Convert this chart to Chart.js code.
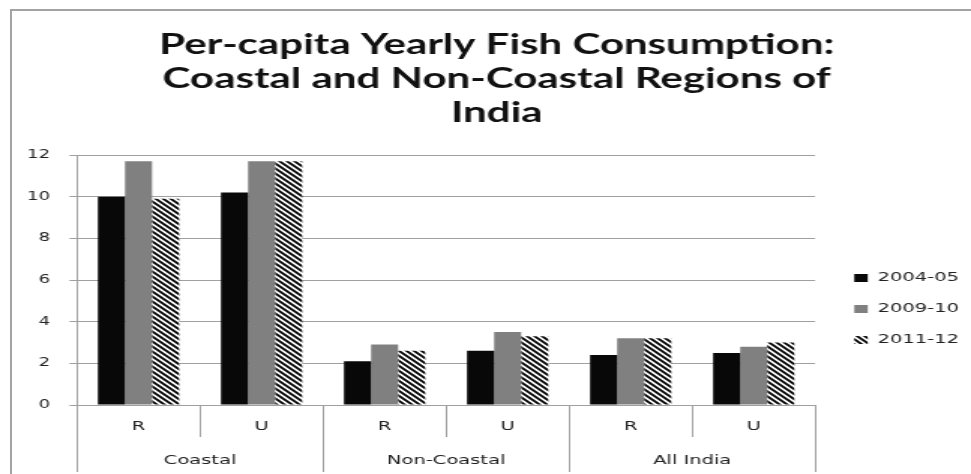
<!DOCTYPE html>
<html>
<head>
<meta charset="utf-8">
<script src="https://cdn.jsdelivr.net/npm/chart.js@4"></script>
<style>
  html, body { margin: 0; padding: 0; background: #fff; }
  #wrap { position: relative; width: 971px; height: 474px; overflow: hidden; }
  #frame { position: absolute; left: 10px; top: 9px; right: 0; bottom: 0;
           border-left: 2px solid #a3a3a3; border-top: 2px solid #a3a3a3; }
  #chart { position: absolute; left: 0; top: 0; }
</style>
</head>
<body>
<div id="wrap">
  <div id="frame"></div>
  <!-- drawn at 647px and shown at 971px wide: the chart is stretched sideways -->
  <canvas id="chart" width="647" height="474" style="width:971px;height:474px"></canvas>
</div>
<script>
// Per-capita fish consumption (kg/year), rural / urban by region
const categories = ['R', 'U', 'R', 'U', 'R', 'U'];
const regions = ['Coastal', 'Non-Coastal', 'All India'];
const seriesNames = ['2004-05', '2009-10', '2011-12'];
const round2004 = [10.0, 10.2, 2.1, 2.6, 2.4, 2.5];
const round2009 = [11.7, 11.7, 2.9, 3.5, 3.2, 2.8];
const round2011 = [9.9, 11.7, 2.6, 3.3, 3.2, 3.0];
const yTicks = [0, 2, 4, 6, 8, 10, 12];

// diagonal black/white stripes for the last round
function makeHatch() {
    const size = 5;
    const c = document.createElement('canvas');
    c.width = size; c.height = size;
    const g = c.getContext('2d');
    g.fillStyle = '#fff';
    g.fillRect(0, 0, size, size);
    g.strokeStyle = '#000';
    g.lineWidth = 1.8;
    g.beginPath();
    for (let k = -size; k <= size; k += size) {
        g.moveTo(k - 1, -1);
        g.lineTo(k + size + 1, size + 1);
    }
    g.stroke();
    return g.createPattern(c, 'repeat');
}

const gridGrey = '#a0a0a0';
const textColor = '#222';

new Chart(document.getElementById('chart'), {
    type: 'bar',
    data: {
        labels: categories,
        datasets: [
            { label: seriesNames[0], data: round2004, backgroundColor: '#080808' },
            { label: seriesNames[1], data: round2009, backgroundColor: '#808080' },
            { label: seriesNames[2], data: round2011, backgroundColor: makeHatch() }
        ]
    },
    options: {
        responsive: false,
        animation: false,
        devicePixelRatio: 1,
        layout: { padding: { left: 13, right: -2, top: 0, bottom: 2 } },
        datasets: { bar: { barPercentage: 1, categoryPercentage: 0.66 } },
        plugins: {
            title: {
                display: true,
                text: ['Per-capita Yearly Fish Consumption:', 'Coastal and Non-Coastal Regions of', 'India'],
                color: '#111',
                font: { family: 'Lato', weight: 'bold', size: 28, lineHeight: 1.215 },
                padding: { top: 28, bottom: 25 }
            },
            legend: {
                position: 'right',
                // empty title only pushes the entries down
                title: { display: true, text: '', font: { size: 10, lineHeight: 1.2 }, padding: { top: 134, bottom: 0 } },
                labels: {
                    color: textColor,
                    font: { family: 'DejaVu Sans', size: 13 },
                    boxWidth: 9,
                    boxHeight: 8,
                    padding: 18
                }
            },
            tooltip: { enabled: false }
        },
        scales: {
            y: {
                min: 0,
                max: 12,
                afterBuildTicks: (scale) => { scale.ticks = yTicks.map(v => ({ value: v })); },
                afterFit: (scale) => { scale.width = 38.3; },
                grid: { color: gridGrey, tickLength: 5 },
                border: { color: gridGrey },
                ticks: { color: textColor, font: { family: 'DejaVu Sans', size: 12 }, padding: 13 }
            },
            // keeps a gap between the plot and the legend
            gap: {
                type: 'linear',
                position: 'right',
                display: true,
                afterFit: (scale) => { scale.width = 8; },
                grid: { display: false },
                border: { display: false },
                ticks: { display: false }
            },
            x: {
                grid: { offset: true, drawOnChartArea: false, color: gridGrey, tickLength: 32 },
                border: { color: gridGrey },
                afterFit: (scale) => { scale.height = 32; },
                ticks: { color: textColor, font: { family: 'DejaVu Sans', size: 13 }, padding: -18 }
            },
            x2: {
                type: 'category',
                labels: regions,
                position: 'bottom',
                offset: true,
                grid: { offset: true, drawOnChartArea: false, color: gridGrey, tickLength: 35 },
                border: { display: false },
                afterFit: (scale) => { scale.height = 35; },
                ticks: { color: textColor, font: { family: 'DejaVu Sans', size: 13 }, padding: -19 }
            }
        }
    }
});
</script>
</body>
</html>
